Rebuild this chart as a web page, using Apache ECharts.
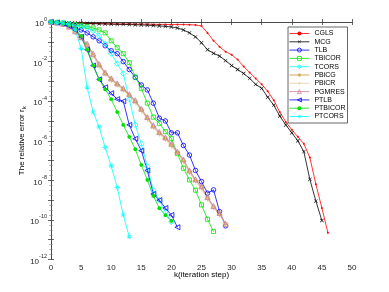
<!DOCTYPE html>
<html><head><meta charset="utf-8">
<script src="https://cdn.jsdelivr.net/npm/echarts@6/dist/echarts.min.js"></script>
<style>html,body{margin:0;padding:0;background:#fff}#c{width:389px;height:292px}</style>
</head><body><div id="c"></div>
<script>
// log10 of the relative error r_k, index = iteration k
const CGLS = [0,-0.02,-0.03,-0.04,-0.05,-0.06,-0.07,-0.08,-0.08,-0.09,-0.09,-0.1,-0.1,-0.1,-0.11,-0.11,-0.11,-0.12,-0.12,-0.12,-0.13,-0.13,-0.13,-0.14,-0.15,-0.2,-0.55,-0.95,-1.25,-1.5,-1.65,-1.9,-2.25,-2.55,-2.85,-3.15,-3.5,-3.95,-4.55,-5.05,-5.45,-5.8,-6.15,-6.85,-8.2,-9.4,-10.65];
const MCG = [0,-0.02,-0.03,-0.04,-0.05,-0.06,-0.07,-0.08,-0.09,-0.1,-0.11,-0.12,-0.12,-0.13,-0.14,-0.15,-0.16,-0.18,-0.2,-0.22,-0.25,-0.3,-0.4,-0.55,-0.75,-1.05,-1.4,-1.58,-1.72,-1.95,-2.2,-2.4,-2.6,-2.85,-3.15,-3.35,-3.8,-4.2,-4.75,-5.2,-5.6,-6.0,-6.55,-7.95,-9.05,-10.03];
const TLB = [0,-0.03,-0.1,-0.2,-0.3,-0.4,-0.55,-0.75,-0.95,-1.2,-1.45,-1.6,-2.0,-2.4,-2.8,-3.18,-3.43,-4.1,-4.86,-5.0,-5.6,-5.6,-6.24,-6.72,-7.5,-8.06,-8.65,-8.48,-9.58,-10.3];
const TBICOR = [0,-0.03,-0.05,-0.1,-0.13,-0.17,-0.22,-0.3,-0.4,-0.55,-0.95,-1.3,-1.6,-2.05,-2.78,-3.35,-4.1,-4.81,-5.12,-5.54,-5.88,-6.65,-7.39,-7.98,-8.5,-9.24,-9.97,-10.59];
const TCORS = [0,-0.02,-0.05,-0.1,-0.15,-0.22,-0.3,-0.45,-0.7,-1.1,-1.6,-2.1,-2.6,-3.9,-5.2,-6.15,-7.3,-8.5,-9.0,-9.6,-10.1];
const PBiCG = [0,-0.03,-0.1,-0.25,-0.5,-0.8,-1.16,-1.67,-2.2,-2.6,-2.9,-3.15,-3.4,-3.7,-4.02,-4.44,-4.86,-5.29,-5.62,-5.88,-6.21,-6.6,-7.0,-7.56,-8.0,-8.35,-8.9,-9.35,-9.7,-10.2];
const PBiCR = [0,-0.03,-0.1,-0.27,-0.52,-0.83,-1.2,-1.7,-2.25,-2.63,-2.95,-3.2,-3.45,-3.75,-4.08,-4.5,-4.92,-5.33,-5.67,-5.93,-6.27,-6.66,-7.06,-7.6,-8.05,-8.42,-8.95,-9.4,-9.76,-10.2];
const PGMRES = [0,-0.03,-0.09,-0.23,-0.47,-0.76,-1.1,-1.6,-2.12,-2.55,-2.85,-3.1,-3.35,-3.65,-3.95,-4.38,-4.8,-5.22,-5.56,-5.83,-6.15,-6.55,-6.95,-7.5,-7.95,-8.3,-8.85,-9.3,-9.65,-10.2];
const PTLB = [0,-0.02,-0.08,-0.2,-0.4,-0.75,-1.4,-2.2,-2.9,-3.3,-3.6,-3.9,-4.0,-5.2,-5.9,-6.5,-7.5,-8.69,-9.0,-9.4,-9.75,-10.37];
const PTBICOR = [0,-0.02,-0.08,-0.15,-0.35,-0.7,-1.4,-2.2,-2.9,-3.4,-3.9,-4.55,-5.2,-5.8,-6.43,-7.22,-7.98,-8.79,-9.41,-9.76,-10.05];
const PTCORS = [0,-0.02,-0.05,-0.1,-0.4,-1.33,-3.3,-4.55,-5.3,-6.35,-7.27,-8.37,-9.75,-10.84];

const seriesNames = ['CGLS','MCG','TLB','TBICOR','TCORS','PBiCG','PBiCR','PGMRES','PTLB','PTBICOR','PTCORS'];
const seriesData = [CGLS,MCG,TLB,TBICOR,TCORS,PBiCG,PBiCR,PGMRES,PTLB,PTBICOR,PTCORS];
const xTicks = {min:0, max:50, step:5};
const yTicks = {min:-12, max:0, step:1};

const PLUS = 'path://M-1.1,-10L1.1,-10L1.1,-1.1L10,-1.1L10,1.1L1.1,1.1L1.1,10L-1.1,10L-1.1,1.1L-10,1.1L-10,-1.1L-1.1,-1.1Z';
const STAR = 'path://M-1.1,-10L1.1,-10L1.1,10L-1.1,10Z M-10,-1.1L10,-1.1L10,1.1L-10,1.1Z M6.3,7.8L7.8,6.3L-6.3,-7.8L-7.8,-6.3Z M7.8,-6.3L6.3,-7.8L-7.8,6.3L-6.3,7.8Z';
const HOLLOW = 'rgba(255,255,255,0)';
const styles = [
  {c:'#ff0000', sym:'circle', size:2, fill:true},
  {c:'#000000', sym:PLUS, size:5, rot:45, fill:true},
  {c:'#0000ff', sym:'circle', size:4.5},
  {c:'#00e600', sym:'rect', size:4},
  {c:'#00ffff', sym:'diamond', size:5.5},
  {c:'#c8962e', sym:STAR, size:5.5, fill:true},
  {c:'#e3cf9f', sym:PLUS, size:5.5, fill:true},
  {c:'#c97d9c', sym:'triangle', size:5},
  {c:'#0000ff', sym:'triangle', size:5, rot:90},
  {c:'#00e000', sym:'circle', size:3.8, fill:true},
  {c:'#00ffff', sym:STAR, size:5.5, fill:true}
];
const itemStyleOf = s => s.fill ? {color:s.c, borderWidth:0, borderColor:s.c}
                                : {color:HOLLOW, borderColor:s.c, borderWidth:0.8};

const series = seriesNames.map((n,i)=>({
  name:n, type:'line',
  data: seriesData[i].map((v,k)=>[k,v]),
  symbol: styles[i].sym, symbolSize: styles[i].size, symbolRotate: styles[i].rot||0,
  showSymbol:true, animation:false,
  lineStyle:{color:styles[i].c, width:0.8},
  itemStyle: itemStyleOf(styles[i]),
  emphasis:{disabled:true}
}));
const legendData = seriesNames.map((n,i)=>({name:n, itemStyle:itemStyleOf(styles[i]),
  lineStyle:{color:styles[i].c, width:0.8}}));

const font = 'Liberation Sans, Arial, sans-serif';
const axisCol = '#404040';
const baseX = {type:'value', min:xTicks.min, max:xTicks.max, interval:xTicks.step,
  axisLine:{show:true, lineStyle:{color:axisCol, width:0.8}},
  axisTick:{show:true, inside:true, length:3, lineStyle:{color:axisCol, width:0.8}},
  splitLine:{show:false}};
const baseY = {type:'value', min:yTicks.min, max:yTicks.max, interval:yTicks.step,
  axisLine:{show:true, lineStyle:{color:axisCol, width:0.8}},
  axisTick:{show:true, inside:true, length:3, lineStyle:{color:axisCol, width:0.8}},
  minorTick:{show:true, splitNumber:4, length:1.8, lineStyle:{color:'#808080', width:0.6}},
  splitLine:{show:false}};

const chart = echarts.init(document.getElementById('c'), null, {renderer:'canvas'});
chart.setOption({
  backgroundColor:'#fff',
  animation:false,
  grid:{left:51, right:37, top:22, bottom:32.5},
  textStyle:{fontFamily:font},
  legend:{
    data:legendData, orient:'vertical', left:288, top:27,
    itemWidth:20, itemHeight:5, itemGap:1.3,
    padding:[3,2,3,1],
    lineStyle:{width:0.8},
    borderColor:'#404040', borderWidth:0.8, backgroundColor:'#fff',
    textStyle:{fontSize:7, color:'#000', fontFamily:font}
  },
  xAxis:[
    Object.assign({}, baseX, {position:'bottom',
      name:'k(iteration step)', nameLocation:'middle', nameGap:11, nameMoveOverlap:false,
      nameTextStyle:{fontSize:8, color:'#000', fontFamily:font},
      axisLabel:{show:true, fontSize:8, color:'#262626', margin:4, fontFamily:font}}),
    Object.assign({}, baseX, {position:'top', axisLabel:{show:false}})
  ],
  yAxis:[
    Object.assign({}, baseY, {position:'left',
      name:'{t|The relative error r}{k|k}', nameLocation:'middle', nameGap:24, nameRotate:90, nameMoveOverlap:false,
      nameTextStyle:{fontSize:8, color:'#000', fontFamily:font,
        rich:{t:{fontSize:8, fontFamily:font, color:'#000'}, k:{fontSize:6, fontFamily:font, color:'#000', verticalAlign:'bottom', padding:[4,0,0,0]}}},
      axisLabel:{show:true, margin:4, fontFamily:font,
        formatter:v=> (Math.round(v)%2===0) ? '{b|10}{s|'+Math.round(v)+'}' : '',
        rich:{b:{fontSize:8, color:'#262626', fontFamily:font, lineHeight:12, verticalAlign:'bottom'},
              s:{fontSize:5.5, color:'#262626', fontFamily:font, verticalAlign:'top', lineHeight:6}}}}),
    Object.assign({}, baseY, {position:'right', axisLabel:{show:false}})
  ],
  series: series
});
</script></body></html>
